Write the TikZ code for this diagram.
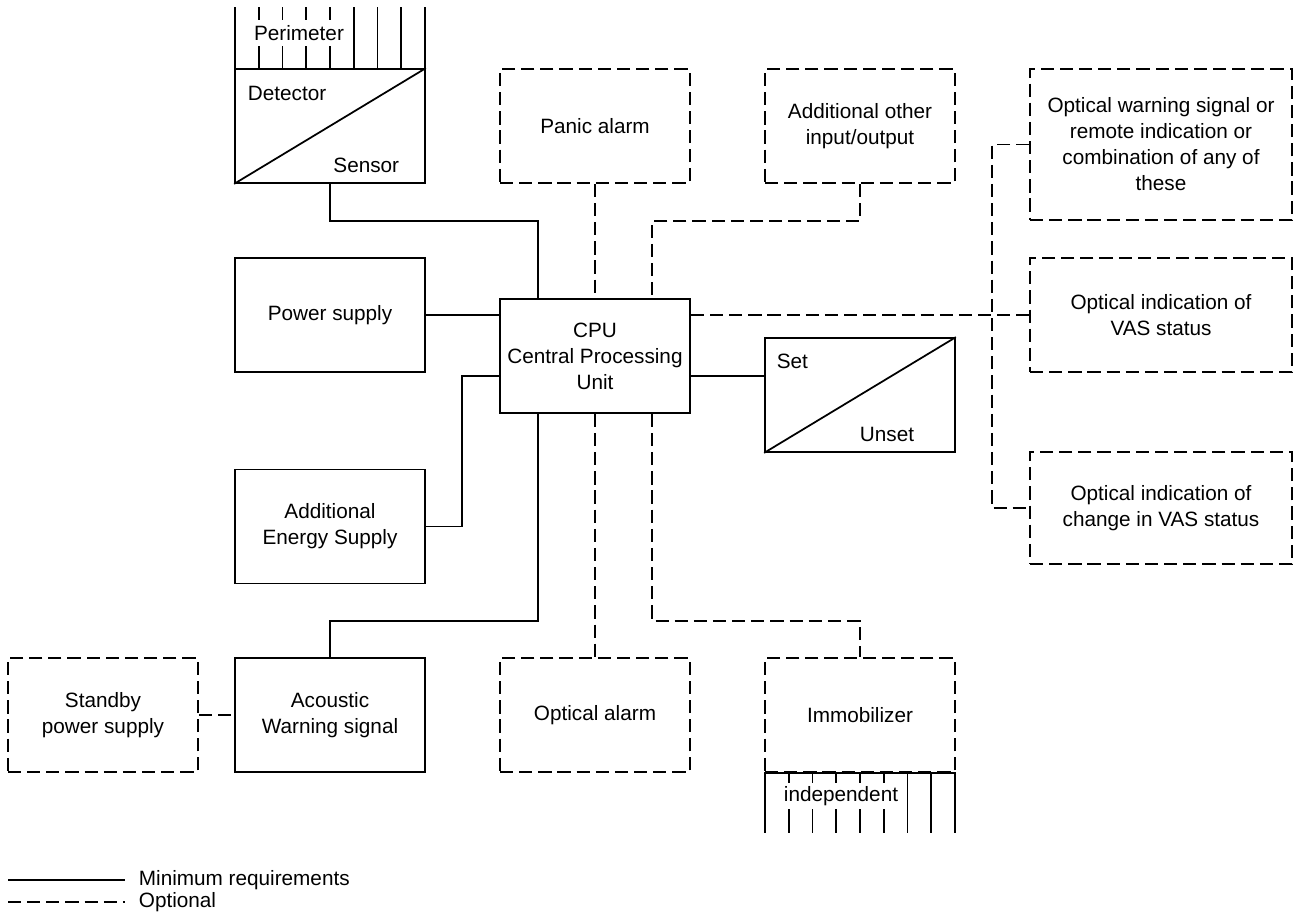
\documentclass[tikz,border=0pt]{standalone}
\usepackage{fontspec}
\setmainfont{Liberation Sans}
\usetikzlibrary{positioning,calc}

\begin{document}
\begin{tikzpicture}[x=0.02cm, y=-0.02cm, line width=1pt,
    font=\fontsize{11.8}{14.8}\selectfont,
    blk/.style={draw, rectangle, minimum width=3.8cm, minimum height=2.28cm, align=center, inner sep=0pt},
    wide/.style={blk, minimum width=5.24cm},
    opt/.style={dash pattern=on 7.5pt off 3.4pt}]
    \useasboundingbox (0,0) rectangle (1294,916);

    % Perimeter comb above the detector
    \foreach \i in {0,...,8} {
        \draw (235+\i*23.75, 7) -- (235+\i*23.75, 69);
    }
    \node[fill=white, inner xsep=2pt, inner ysep=3pt] (perim) at (299, 33) {Perimeter};

    % Left column
    \node[blk] (det) at (330, 126) {};
    \draw (det.south west) -- (det.north east);
    \node[anchor=west, inner sep=0pt] (detTxt) at (247, 93) {Detector};
    \node[anchor=east, inner sep=0pt] (senTxt) at (400, 165) {Sensor};
    \node[blk] (power) at (330, 315) {Power supply};
    \node[blk] (energy) at (330, 526.5) {Additional\\Energy Supply};
    \node[blk] (acoustic) at (330, 715) {Acoustic\\Warning signal};
    \node[blk, opt] (standby) at (103, 715) {Standby\\power supply};

    % Middle column
    \node[blk, opt] (panic) at (595, 126) {Panic alarm};
    \node[blk] (cpu) at (595, 356) {CPU\\Central Processing\\Unit};
    \node[blk, opt] (optalarm) at (595, 715) {Optical alarm};

    % Right of CPU
    \node[blk, opt] (addio) at (860, 126) {Additional other\\input/output};
    \node[blk] (setbox) at (860, 395) {};
    \draw (setbox.south west) -- (setbox.north east);
    \node[anchor=west, inner sep=0pt] (setTxt) at (776, 361) {Set};
    \node[anchor=east, inner sep=0pt] (unsetTxt) at (915, 434) {Unset};
    \node[blk, opt] (immob) at (860, 715) {Immobilizer};

    % Independent comb below the immobilizer
    \foreach \i in {0,...,8} {
        \draw (765+\i*23.75, 772) -- (765+\i*23.75, 833);
    }
    \draw (immob.south west) -- (immob.south east);
    \node[fill=white, inner xsep=2pt, inner ysep=2pt] (indep) at (841, 796) {independent};

    % Indication boxes
    \node[wide, opt, minimum height=3.02cm] (optwarn) at (1161, 144.5) {Optical warning signal or\\remote indication or\\combination of any of\\these};
    \node[wide, opt] (vas) at (1161, 315) {Optical indication of\\VAS status};
    \node[wide, opt, minimum height=2.24cm] (vaschg) at (1161, 508) {Optical indication of\\change in VAS status};

    % Bends
    \coordinate (jDet) at (538, 221);
    \coordinate (jIO) at (652, 221);
    \coordinate (jE) at (462, 376);
    \coordinate (jAc) at (538, 621);
    \coordinate (jIm) at (652, 621);
    \coordinate (bus) at (992, 315);

    % Minimum requirements
    \draw (det.south) |- (jDet) -- (jDet |- cpu.north);
    \draw (power.east) -- (power.east -| cpu.west);
    \draw (energy.east) -| (jE) -- (jE -| cpu.west);
    \draw (jE -| cpu.east) -- (jE -| setbox.west);
    \draw (jAc |- cpu.south) -- (jAc) -| (acoustic.north);

    % Optional
    \draw[opt] (panic.south) -- (cpu.north);
    \draw[opt] (addio.south) |- (jIO) -- (jIO |- cpu.north);
    \draw[opt] (cpu.south) -- (optalarm.north);
    \draw[opt] (jIm |- cpu.south) -- (jIm) -| (immob.north);
    \draw[opt] (standby.east) -- (acoustic.west);
    \draw[opt] (vas.west -| cpu.east) -- (vas.west);
    \draw[opt] (optwarn.west) -| (bus) |- (vaschg.west);

    % Legend
    \coordinate (lgS) at (8, 880);
    \coordinate (lgO) at (8, 902);
    \node[anchor=west, inner xsep=13*0.02cm, inner ysep=0pt] (lgMin) at (125, 880) {Minimum requirements};
    \node[anchor=west, inner xsep=13*0.02cm, inner ysep=0pt] (lgOpt) at (125, 902) {Optional};
    \draw (lgS) -- (lgMin.west);
    \draw[opt] (lgO) -- (lgOpt.west);
\end{tikzpicture}
\end{document}
